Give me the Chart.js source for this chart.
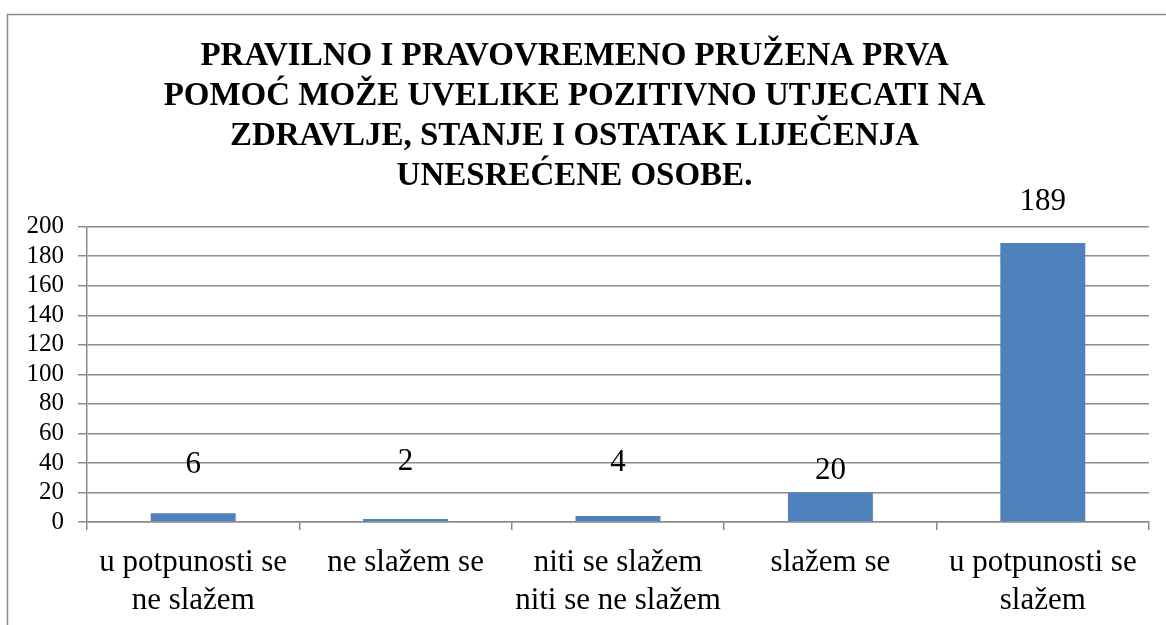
<!DOCTYPE html>
<html>
<head>
<meta charset="utf-8">
<script src="https://cdn.jsdelivr.net/npm/chart.js@4.4.1/dist/chart.umd.min.js"></script>
<style>
  html, body { margin: 0; padding: 0; background: #fff; }
  #wrap { position: relative; width: 1166px; height: 625px; }
  canvas { display: block; }
</style>
</head>
<body>
<div id="wrap"><canvas id="c" width="1166" height="625"></canvas></div>
<script>
const titleLines = [
  'PRAVILNO I PRAVOVREMENO PRUŽENA PRVA',
  'POMOĆ MOŽE UVELIKE POZITIVNO UTJECATI NA',
  'ZDRAVLJE, STANJE I OSTATAK LIJEČENJA',
  'UNESREĆENE OSOBE.'
];
const categories = [
  ['u potpunosti se', 'ne slažem'],
  ['ne slažem se'],
  ['niti se slažem', 'niti se ne slažem'],
  ['slažem se'],
  ['u potpunosti se', 'slažem']
];
const values = [6, 2, 4, 20, 189];
const yTicks = [0, 20, 40, 60, 80, 100, 120, 140, 160, 180, 200];

const SERIF = "'Liberation Serif', 'Times New Roman', serif";
const GRID = '#8c8c8c';

const frame = {
  id: 'frame',
  beforeDraw(chart) {
    const ctx = chart.ctx;
    ctx.save();
    ctx.fillStyle = '#fff';
    ctx.fillRect(0, 0, chart.width, chart.height);
    ctx.strokeStyle = '#8c8c8c';
    ctx.lineWidth = 1.5;
    ctx.strokeRect(7.5, 14.5, 1300, 800);
    ctx.restore();
  }
};

const valueLabels = {
  id: 'valueLabels',
  afterDatasetsDraw(chart, args, opts) {
    const ctx = chart.ctx;
    const meta = chart.getDatasetMeta(0);
    ctx.save();
    ctx.font = opts.font;
    ctx.fillStyle = '#000';
    ctx.textAlign = 'center';
    ctx.textBaseline = 'middle';
    meta.data.forEach((bar, i) => {
      const v = chart.data.datasets[0].data[i];
      ctx.fillText(String(v), bar.x, bar.y - opts.offsets[i]);
    });
    ctx.restore();
  }
};

new Chart(document.getElementById('c'), {
  type: 'bar',
  data: {
    labels: categories,
    datasets: [{
      data: values,
      backgroundColor: '#4f81bd',
      borderWidth: 0,
      barPercentage: 0.4,
      categoryPercentage: 1.0
    }]
  },
  options: {
    responsive: false,
    animation: false,
    devicePixelRatio: 1,
    layout: { padding: { left: 0, right: 17, top: 0, bottom: 0 } },
    plugins: {
      legend: { display: false },
      tooltip: { enabled: false },
      title: {
        display: true,
        text: titleLines,
        color: '#000',
        font: { family: SERIF, size: 33, weight: 'bold', lineHeight: 1.21 },
        padding: { top: 37, bottom: 30 }
      },
      valueLabels: {
        font: "31px " + SERIF,
        offsets: [48, 57, 53, 22, 41]
      }
    },
    scales: {
      x: {
        grid: {
          offset: true,
          drawOnChartArea: false,
          drawTicks: true,
          tickLength: 8,
          color: GRID,
          lineWidth: 1.5
        },
        border: { display: true, color: GRID, width: 1.5 },
        ticks: {
          color: '#000',
          font: { family: SERIF, size: 31, lineHeight: 1.23 },
          padding: 14,
          maxRotation: 0,
          autoSkip: false
        },
        afterFit(scale) { scale.height = 103; }
      },
      y: {
        min: 0,
        max: 200,
        afterBuildTicks(scale) { scale.ticks = yTicks.map(v => ({ value: v })); },
        grid: {
          color: GRID,
          lineWidth: 1.5,
          drawTicks: true,
          tickLength: 9
        },
        border: { display: true, color: GRID, width: 1.5 },
        ticks: {
          color: '#000',
          font: { family: SERIF, size: 25 },
          padding: 14,
          autoSkip: false
        },
        afterFit(scale) { scale.width = 87; }
      }
    }
  },
  plugins: [frame, valueLabels]
});
</script>
</body>
</html>
